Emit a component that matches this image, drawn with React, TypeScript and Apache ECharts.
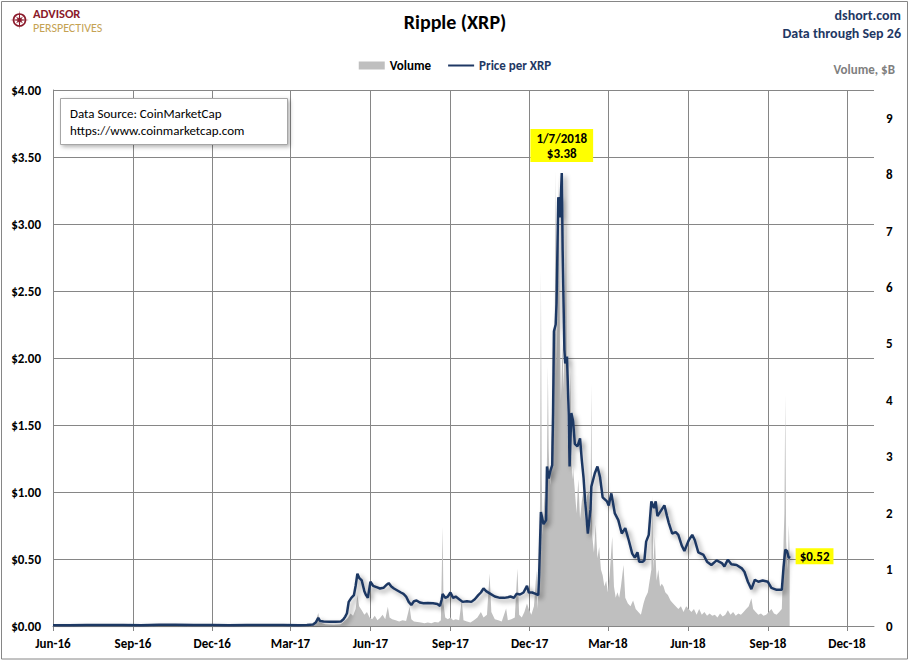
import React, { useEffect, useRef } from "react";
import * as echarts from "echarts";

const FONT = "Carlito, Calibri, Lato, 'Open Sans', sans-serif";
const NAVY = "#1F3864";
const GRID = "#868686";
const VOL_GRAY = "#BFBFBF";

const axisStart = "2016-06-01";
const axisEnd = "2019-01-01";
const tickMonths = [3, 6, 9, 12];
const monthNames = ["Jan", "Feb", "Mar", "Apr", "May", "Jun", "Jul", "Aug", "Sep", "Oct", "Nov", "Dec"];

const priceTicks = { min: 0, max: 4, interval: 0.5 };
const volumeTicks = { min: 0, max: 9.5, interval: 1 };

const titleText = "Ripple (XRP)";
const siteText = "dshort.com";
const throughText = "Data through Sep 26";
const volumeAxisName = "Volume, $B";
const sourceLines = ["Data Source: CoinMarketCap", "https://www.coinmarketcap.com"];
const logoLines = ["ADVISOR", "PERSPECTIVES"];

// Price per XRP, USD
const priceSeries: [string, number][] = [
  ["2016-06-01", 0.006], ["2016-06-20", 0.0065], ["2016-07-10", 0.0068], ["2016-08-01", 0.0068],
  ["2016-08-20", 0.0066], ["2016-09-10", 0.0064], ["2016-10-01", 0.009], ["2016-10-20", 0.0085],
  ["2016-11-10", 0.0078], ["2016-12-01", 0.0072], ["2016-12-20", 0.0065], ["2017-01-10", 0.0068],
  ["2017-02-01", 0.007], ["2017-02-20", 0.0066], ["2017-03-10", 0.0062], ["2017-03-20", 0.008],
  ["2017-03-27", 0.012], ["2017-03-30", 0.026], ["2017-04-02", 0.06], ["2017-04-04", 0.038],
  ["2017-04-08", 0.033], ["2017-04-15", 0.032], ["2017-04-22", 0.032], ["2017-04-28", 0.034],
  ["2017-05-01", 0.05], ["2017-05-03", 0.07], ["2017-05-05", 0.095], ["2017-05-07", 0.18],
  ["2017-05-10", 0.21], ["2017-05-13", 0.23], ["2017-05-15", 0.3], ["2017-05-17", 0.39],
  ["2017-05-19", 0.36], ["2017-05-22", 0.34], ["2017-05-25", 0.26], ["2017-05-27", 0.23],
  ["2017-05-29", 0.21], ["2017-06-01", 0.33], ["2017-06-04", 0.3], ["2017-06-08", 0.29],
  ["2017-06-12", 0.28], ["2017-06-16", 0.285], ["2017-06-20", 0.31], ["2017-06-22", 0.32],
  ["2017-06-25", 0.295], ["2017-06-28", 0.28], ["2017-07-02", 0.265], ["2017-07-06", 0.25],
  ["2017-07-09", 0.24], ["2017-07-12", 0.22], ["2017-07-15", 0.18], ["2017-07-18", 0.157],
  ["2017-07-21", 0.185], ["2017-07-24", 0.19], ["2017-07-28", 0.175], ["2017-08-01", 0.17],
  ["2017-08-06", 0.172], ["2017-08-12", 0.17], ["2017-08-17", 0.165], ["2017-08-20", 0.15],
  ["2017-08-22", 0.2], ["2017-08-23", 0.24], ["2017-08-26", 0.21], ["2017-08-29", 0.22],
  ["2017-09-01", 0.25], ["2017-09-04", 0.21], ["2017-09-07", 0.22], ["2017-09-11", 0.2],
  ["2017-09-15", 0.18], ["2017-09-20", 0.185], ["2017-09-25", 0.18], ["2017-09-29", 0.2],
  ["2017-10-03", 0.23], ["2017-10-06", 0.25], ["2017-10-09", 0.28], ["2017-10-12", 0.26],
  ["2017-10-17", 0.24], ["2017-10-22", 0.22], ["2017-10-28", 0.21], ["2017-11-02", 0.21],
  ["2017-11-06", 0.215], ["2017-11-09", 0.22], ["2017-11-13", 0.21], ["2017-11-16", 0.24],
  ["2017-11-20", 0.235], ["2017-11-24", 0.25], ["2017-11-28", 0.3], ["2017-11-30", 0.25],
  ["2017-12-04", 0.25], ["2017-12-08", 0.24], ["2017-12-11", 0.23], ["2017-12-12", 0.39],
  ["2017-12-14", 0.85], ["2017-12-17", 0.76], ["2017-12-20", 0.79], ["2017-12-21", 1.19],
  ["2017-12-23", 1.1], ["2017-12-25", 1.16], ["2017-12-27", 1.2], ["2017-12-28", 1.6],
  ["2017-12-29", 2.2], ["2017-12-31", 2.25], ["2018-01-01", 2.41], ["2018-01-03", 3.2],
  ["2018-01-05", 3.05], ["2018-01-07", 3.38], ["2018-01-08", 2.8], ["2018-01-10", 2.06],
  ["2018-01-11", 1.96], ["2018-01-13", 2.01], ["2018-01-15", 1.58], ["2018-01-16", 1.19],
  ["2018-01-18", 1.59], ["2018-01-20", 1.53], ["2018-01-22", 1.36], ["2018-01-25", 1.34],
  ["2018-01-28", 1.4], ["2018-01-30", 1.24], ["2018-02-01", 1.11], ["2018-02-03", 0.92],
  ["2018-02-06", 0.69], ["2018-02-09", 0.87], ["2018-02-10", 1.04], ["2018-02-14", 1.14],
  ["2018-02-17", 1.19], ["2018-02-20", 1.11], ["2018-02-23", 0.96], ["2018-02-28", 0.93],
  ["2018-03-02", 0.9], ["2018-03-05", 0.99], ["2018-03-09", 0.84], ["2018-03-13", 0.79],
  ["2018-03-17", 0.69], ["2018-03-21", 0.73], ["2018-03-25", 0.64], ["2018-03-29", 0.54],
  ["2018-04-01", 0.51], ["2018-04-04", 0.55], ["2018-04-06", 0.48], ["2018-04-10", 0.48],
  ["2018-04-12", 0.49], ["2018-04-14", 0.63], ["2018-04-17", 0.68], ["2018-04-20", 0.93],
  ["2018-04-23", 0.88], ["2018-04-25", 0.93], ["2018-04-27", 0.82], ["2018-04-30", 0.85],
  ["2018-05-05", 0.9], ["2018-05-08", 0.82], ["2018-05-10", 0.77], ["2018-05-14", 0.69],
  ["2018-05-18", 0.7], ["2018-05-21", 0.68], ["2018-05-25", 0.6], ["2018-05-28", 0.56],
  ["2018-06-02", 0.64], ["2018-06-06", 0.68], ["2018-06-09", 0.64], ["2018-06-13", 0.55],
  ["2018-06-19", 0.53], ["2018-06-23", 0.48], ["2018-06-28", 0.455], ["2018-07-04", 0.49],
  ["2018-07-10", 0.47], ["2018-07-13", 0.445], ["2018-07-17", 0.495], ["2018-07-21", 0.46],
  ["2018-07-27", 0.455], ["2018-08-02", 0.43], ["2018-08-05", 0.405], ["2018-08-09", 0.33],
  ["2018-08-13", 0.275], ["2018-08-17", 0.345], ["2018-08-21", 0.33], ["2018-08-26", 0.34],
  ["2018-09-01", 0.33], ["2018-09-05", 0.285], ["2018-09-11", 0.27], ["2018-09-17", 0.27],
  ["2018-09-19", 0.44], ["2018-09-21", 0.57], ["2018-09-23", 0.56], ["2018-09-25", 0.505],
  ["2018-09-26", 0.52],
];

// Daily volume, $B
const volumeSeries: [string, number][] = [
  ["2016-06-01", 0.001], ["2016-09-01", 0.001], ["2016-12-01", 0.001], ["2017-03-01", 0.002],
  ["2017-03-25", 0.004], ["2017-03-30", 0.08], ["2017-04-02", 0.23], ["2017-04-04", 0.06],
  ["2017-04-10", 0.03], ["2017-04-20", 0.02], ["2017-04-28", 0.03], ["2017-05-03", 0.1],
  ["2017-05-06", 0.14], ["2017-05-09", 0.22], ["2017-05-12", 0.18], ["2017-05-15", 0.3],
  ["2017-05-17", 0.55], ["2017-05-19", 0.35], ["2017-05-22", 0.28], ["2017-05-25", 0.2],
  ["2017-05-28", 0.25], ["2017-05-31", 0.15], ["2017-06-03", 0.12], ["2017-06-06", 0.18],
  ["2017-06-09", 0.1], ["2017-06-12", 0.14], ["2017-06-15", 0.2], ["2017-06-18", 0.12],
  ["2017-06-21", 0.34], ["2017-06-23", 0.15], ["2017-06-26", 0.12], ["2017-06-30", 0.1],
  ["2017-07-04", 0.08], ["2017-07-08", 0.1], ["2017-07-12", 0.09], ["2017-07-16", 0.34],
  ["2017-07-18", 0.12], ["2017-07-21", 0.08], ["2017-07-25", 0.07], ["2017-07-29", 0.06],
  ["2017-08-02", 0.05], ["2017-08-06", 0.06], ["2017-08-10", 0.05], ["2017-08-14", 0.07],
  ["2017-08-18", 0.06], ["2017-08-21", 0.1], ["2017-08-23", 1.76], ["2017-08-24", 0.4],
  ["2017-08-26", 0.15], ["2017-08-29", 0.12], ["2017-09-01", 0.15], ["2017-09-04", 0.1],
  ["2017-09-07", 0.12], ["2017-09-11", 0.1], ["2017-09-14", 0.46], ["2017-09-16", 0.1],
  ["2017-09-20", 0.08], ["2017-09-24", 0.06], ["2017-09-28", 0.1], ["2017-10-02", 0.15],
  ["2017-10-06", 0.25], ["2017-10-09", 0.15], ["2017-10-13", 0.2], ["2017-10-16", 0.93],
  ["2017-10-18", 0.25], ["2017-10-22", 0.12], ["2017-10-26", 0.1], ["2017-10-30", 0.08],
  ["2017-11-04", 0.31], ["2017-11-06", 0.1], ["2017-11-10", 0.12], ["2017-11-14", 0.15],
  ["2017-11-17", 1.02], ["2017-11-19", 0.2], ["2017-11-22", 0.15], ["2017-11-25", 0.25],
  ["2017-11-28", 0.4], ["2017-11-30", 0.3], ["2017-12-03", 0.2], ["2017-12-06", 0.35],
  ["2017-12-09", 0.99], ["2017-12-10", 0.3], ["2017-12-12", 0.9], ["2017-12-13", 2.2],
  ["2017-12-14", 6.3], ["2017-12-15", 2.6], ["2017-12-16", 1.6], ["2017-12-17", 1.9],
  ["2017-12-18", 2.4], ["2017-12-19", 2.0], ["2017-12-20", 2.2], ["2017-12-21", 3.0],
  ["2017-12-22", 4.6], ["2017-12-23", 3.1], ["2017-12-24", 2.6], ["2017-12-25", 2.5],
  ["2017-12-26", 3.2], ["2017-12-27", 3.6], ["2017-12-28", 3.4], ["2017-12-29", 4.2],
  ["2017-12-30", 5.5], ["2017-12-31", 8.07], ["2018-01-01", 4.5], ["2018-01-02", 5.6],
  ["2018-01-03", 7.95], ["2018-01-04", 6.5], ["2018-01-05", 5.0], ["2018-01-06", 4.0],
  ["2018-01-07", 4.5], ["2018-01-08", 5.0], ["2018-01-09", 4.2], ["2018-01-10", 4.8],
  ["2018-01-11", 6.0], ["2018-01-12", 7.2], ["2018-01-13", 4.0], ["2018-01-14", 3.2],
  ["2018-01-15", 3.6], ["2018-01-16", 3.8], ["2018-01-17", 4.5], ["2018-01-18", 3.0],
  ["2018-01-19", 2.6], ["2018-01-20", 2.8], ["2018-01-22", 2.4], ["2018-01-24", 2.0],
  ["2018-01-26", 2.6], ["2018-01-28", 1.9], ["2018-01-30", 2.2], ["2018-02-01", 2.4],
  ["2018-02-03", 1.8], ["2018-02-05", 2.3], ["2018-02-07", 2.4], ["2018-02-08", 1.6],
  ["2018-02-09", 1.8], ["2018-02-10", 4.3], ["2018-02-11", 1.6], ["2018-02-13", 1.3],
  ["2018-02-15", 1.8], ["2018-02-17", 1.2], ["2018-02-19", 1.4], ["2018-02-21", 1.0],
  ["2018-02-23", 0.9], ["2018-02-25", 0.7], ["2018-02-27", 0.8], ["2018-03-01", 0.6],
  ["2018-03-03", 0.9], ["2018-03-06", 1.58], ["2018-03-08", 0.7], ["2018-03-10", 0.5],
  ["2018-03-12", 0.6], ["2018-03-14", 0.5], ["2018-03-16", 0.7], ["2018-03-19", 1.08],
  ["2018-03-21", 0.5], ["2018-03-24", 0.4], ["2018-03-27", 0.35], ["2018-03-30", 0.45],
  ["2018-04-02", 0.3], ["2018-04-05", 0.25], ["2018-04-08", 0.2], ["2018-04-11", 0.4],
  ["2018-04-13", 0.5], ["2018-04-16", 0.6], ["2018-04-18", 0.8], ["2018-04-20", 1.0],
  ["2018-04-21", 2.32], ["2018-04-22", 1.0], ["2018-04-24", 1.58], ["2018-04-26", 0.8],
  ["2018-04-28", 1.0], ["2018-04-30", 0.7], ["2018-05-02", 0.75], ["2018-05-04", 0.7],
  ["2018-05-06", 0.6], ["2018-05-09", 0.55], ["2018-05-12", 0.45], ["2018-05-15", 0.4],
  ["2018-05-18", 0.35], ["2018-05-21", 0.3], ["2018-05-24", 0.35], ["2018-05-27", 0.25],
  ["2018-05-30", 0.35], ["2018-06-02", 0.3], ["2018-06-05", 0.25], ["2018-06-08", 0.3],
  ["2018-06-11", 0.2], ["2018-06-14", 0.3], ["2018-06-17", 0.2], ["2018-06-20", 0.25],
  ["2018-06-23", 0.18], ["2018-06-26", 0.22], ["2018-06-29", 0.18], ["2018-07-02", 0.2],
  ["2018-07-05", 0.15], ["2018-07-08", 0.22], ["2018-07-11", 0.17], ["2018-07-14", 0.2],
  ["2018-07-17", 0.28], ["2018-07-20", 0.2], ["2018-07-23", 0.25], ["2018-07-26", 0.18],
  ["2018-07-29", 0.22], ["2018-08-01", 0.2], ["2018-08-04", 0.25], ["2018-08-07", 0.3],
  ["2018-08-10", 0.35], ["2018-08-13", 0.49], ["2018-08-15", 0.3], ["2018-08-18", 0.25],
  ["2018-08-21", 0.2], ["2018-08-24", 0.22], ["2018-08-27", 0.18], ["2018-08-30", 0.2],
  ["2018-09-02", 0.25], ["2018-09-05", 0.3], ["2018-09-08", 0.22], ["2018-09-11", 0.2],
  ["2018-09-14", 0.25], ["2018-09-17", 0.3], ["2018-09-18", 0.8], ["2018-09-19", 1.5],
  ["2018-09-20", 2.0], ["2018-09-21", 4.09], ["2018-09-22", 1.5], ["2018-09-23", 1.2],
  ["2018-09-24", 1.0], ["2018-09-25", 1.79], ["2018-09-26", 1.3],
];

const DAY = 86400000;
function utcOf(s: string): number {
  const [y, m, d] = s.split("-").map(Number);
  return Date.UTC(y, m - 1, d);
}
function dayIndex(s: string): number {
  return Math.round((utcOf(s) - utcOf(axisStart)) / DAY);
}
function dateOf(i: number): string {
  return new Date(utcOf(axisStart) + i * DAY).toISOString().slice(0, 10);
}

export default function App() {
  const ref = useRef<HTMLDivElement>(null);
  useEffect(() => {
    if (!ref.current) return;
    const chart = echarts.init(ref.current, null, { renderer: "svg" });
    const n = dayIndex(axisEnd) + 1;
    const categories = Array.from({ length: n }, (_, i) => dateOf(i));
    const isTick = (_i: number, v: string) => {
      const [, m, d] = v.split("-").map(Number);
      return d === 1 && tickMonths.includes(m);
    };
    const fmtTick = (v: string) => {
      const [y, m] = v.split("-").map(Number);
      return `${monthNames[m - 1]}-${String(y).slice(2)}`;
    };

    const priceData = priceSeries.map(([d, v]) => [dayIndex(d), v]);
    const volumeData = volumeSeries.map(([d, v]) => [dayIndex(d), v]);

    let peak = priceSeries[0];
    priceSeries.forEach((p) => { if (p[1] > peak[1]) peak = p; });
    const last = priceSeries[priceSeries.length - 1];
    const [py, pm, pd] = peak[0].split("-").map(Number);
    const peakLabel = `${pm}/${pd}/${py}\n$${peak[1].toFixed(2)}`;

    const starPts: number[][] = [];
    const cx = 19.5, cy = 20;
    for (let k = 0; k < 16; k++) {
      const a = (k * Math.PI) / 8 - Math.PI / 2;
      const r = k % 4 === 0 ? 9.5 : k % 2 === 0 ? 5 : 2;
      starPts.push([cx + r * Math.cos(a), cy + r * Math.sin(a)]);
    }

    const txt = (x: number, y: number, text: string, size: number, color: string, weight: string, align = "left") => ({
      type: "text",
      x,
      y,
      silent: true,
      style: {
        text,
        fill: color,
        fontSize: size,
        fontWeight: weight,
        fontFamily: FONT,
        align,
        textAlign: align,
        verticalAlign: "middle",
        textVerticalAlign: "middle",
      },
    });

    chart.setOption({
      animation: false,
      backgroundColor: "#ffffff",
      grid: { left: 53, right: 36, top: 90, bottom: 35, containLabel: false },
      legend: {
        top: 54,
        left: "center",
        itemWidth: 26,
        itemHeight: 8,
        itemGap: 16,
        textStyle: { fontFamily: FONT, fontSize: 13, fontWeight: "bold" },
        data: [
          { name: "Volume", icon: "rect", textStyle: { color: "#000000" } },
          { name: "Price per XRP", itemStyle: { opacity: 0 }, textStyle: { color: NAVY } },
        ],
      },
      xAxis: {
        type: "category",
        data: categories,
        boundaryGap: false,
        axisLine: { show: true, lineStyle: { color: GRID, width: 1 } },
        axisTick: { show: true, interval: isTick, length: 5, lineStyle: { color: GRID } },
        axisLabel: {
          interval: isTick,
          formatter: fmtTick,
          margin: 11,
          color: "#000000",
          fontFamily: FONT,
          fontSize: 13,
          fontWeight: "bold",
        },
        splitLine: { show: true, interval: isTick, lineStyle: { color: GRID, width: 1 } },
      },
      yAxis: [
        {
          type: "value",
          min: priceTicks.min,
          max: priceTicks.max,
          interval: priceTicks.interval,
          axisLine: { show: true, lineStyle: { color: GRID } },
          axisTick: { show: false },
          axisLabel: {
            formatter: (v: number) => `$${v.toFixed(2)}`,
            margin: 12,
            color: "#000000",
            fontFamily: FONT,
            fontSize: 13,
            fontWeight: "bold",
          },
          splitLine: { show: true, lineStyle: { color: GRID, width: 1 } },
        },
        {
          type: "value",
          position: "right",
          min: volumeTicks.min,
          max: volumeTicks.max,
          interval: volumeTicks.interval,
          axisLine: { show: false },
          axisTick: { show: false },
          splitLine: { show: false },
          axisLabel: {
            showMaxLabel: false,
            margin: 12,
            color: "#000000",
            fontFamily: FONT,
            fontSize: 13,
            fontWeight: "bold",
          },
        },
      ],
      series: [
        {
          name: "Volume",
          type: "line",
          yAxisIndex: 1,
          data: volumeData,
          symbol: "none",
          color: VOL_GRAY,
          itemStyle: { color: VOL_GRAY },
          lineStyle: { width: 0, color: VOL_GRAY },
          areaStyle: { color: VOL_GRAY, opacity: 1 },
          z: 1,
        },
        {
          name: "Price per XRP",
          type: "line",
          yAxisIndex: 0,
          data: priceData,
          symbol: "none",
          color: NAVY,
          lineStyle: {
            color: NAVY,
            width: 2.5,
            shadowColor: "rgba(0,0,0,0.4)",
            shadowBlur: 5,
            shadowOffsetX: 3,
            shadowOffsetY: 3,
          },
          z: 3,
          markPoint: {
            symbol: "circle",
            symbolSize: 0,
            silent: true,
            data: [
              {
                coord: [dayIndex(peak[0]), peak[1]],
                label: {
                  show: true,
                  position: "top",
                  distance: 11,
                  formatter: peakLabel,
                  backgroundColor: "#FFFF00",
                  padding: [2, 6, 1, 6],
                  lineHeight: 15,
                  align: "center",
                  color: "#000000",
                  fontFamily: FONT,
                  fontSize: 13,
                  fontWeight: "bold",
                },
              },
              {
                coord: [dayIndex(last[0]), last[1]],
                label: {
                  show: true,
                  position: "right",
                  distance: 6,
                  formatter: `$${last[1].toFixed(2)}`,
                  backgroundColor: "#FFFF00",
                  padding: [2, 4, 1, 4],
                  color: "#000000",
                  fontFamily: FONT,
                  fontSize: 13,
                  fontWeight: "bold",
                },
              },
            ],
          },
        },
      ],
      graphic: [
        {
          type: "rect",
          silent: true,
          z: 100,
          shape: { x: 1.5, y: 1.5, width: 906, height: 657.5 },
          style: { fill: "none", stroke: GRID, lineWidth: 1 },
        },
        {
          type: "circle",
          silent: true,
          shape: { cx, cy, r: 6 },
          style: { fill: "none", stroke: "#8B1A2B", lineWidth: 1.6 },
        },
        {
          type: "polygon",
          silent: true,
          shape: { points: starPts },
          style: { fill: "#8B1A2B" },
        },
        txt(33, 13, logoLines[0], 12.5, "#8B1A2B", "bold"),
        txt(33, 28, logoLines[1], 12, "#C5A253", "normal"),
        txt(455, 22, titleText, 20, "#000000", "bold", "center"),
        txt(901, 15, siteText, 14, NAVY, "bold", "right"),
        txt(901, 33, throughText, 14, NAVY, "bold", "right"),
        txt(895, 69, volumeAxisName, 13, "#7F7F7F", "bold", "right"),
        {
          type: "rect",
          silent: true,
          z: 50,
          shape: { x: 60.5, y: 98.5, width: 227, height: 46 },
          style: {
            fill: "#ffffff",
            stroke: "#A6A6A6",
            lineWidth: 1,
            shadowColor: "rgba(0,0,0,0.3)",
            shadowBlur: 4,
            shadowOffsetX: 2,
            shadowOffsetY: 2,
          },
        },
        { ...txt(70, 113, sourceLines[0], 13, "#000000", "normal"), z: 51 },
        { ...txt(70, 130, sourceLines[1], 13, "#000000", "normal"), z: 51 },
      ],
    });
    return () => chart.dispose();
  }, []);
  return (
    <div
      ref={ref}
      style={{ position: "fixed", left: 0, top: 0, width: 910, height: 661, background: "#ffffff" }}
    />
  );
}
